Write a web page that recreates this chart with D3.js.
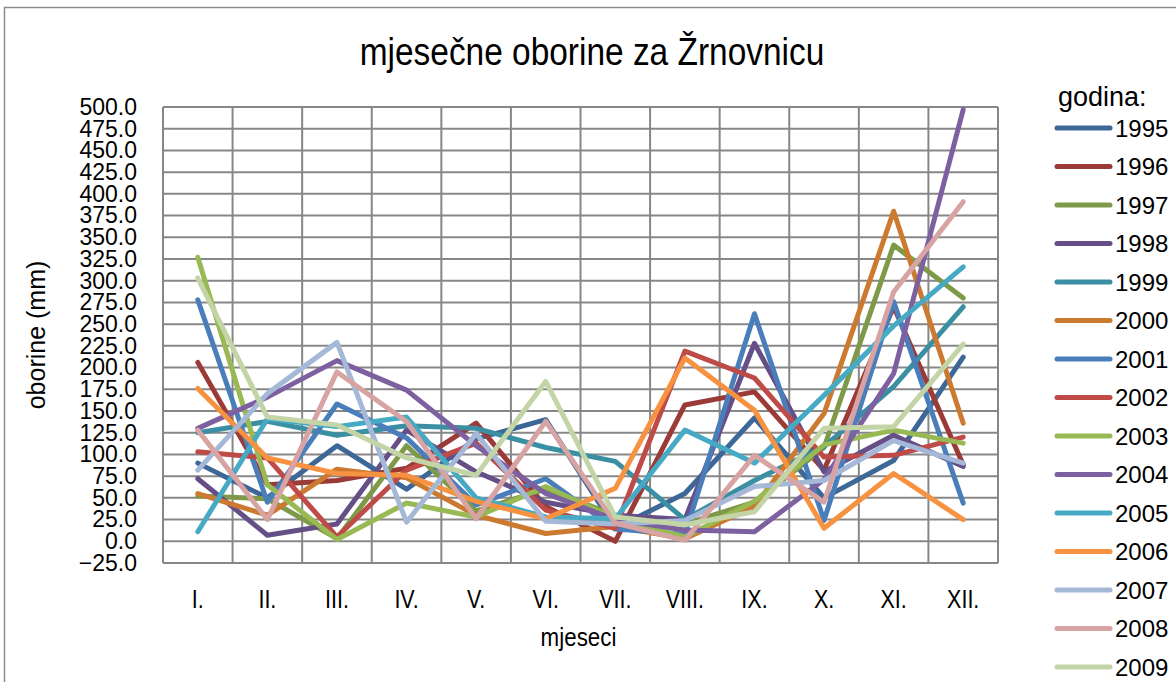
<!DOCTYPE html>
<html>
<head>
<meta charset="utf-8">
<script src="https://cdn.jsdelivr.net/npm/d3@7"></script>
<style>
  body { margin: 0; background: #fff; }
  svg { display: block; }
</style>
</head>
<body>
<svg id="chart"></svg>
<script>
// months and years
const months = ['I.', 'II.', 'III.', 'IV.', 'V.', 'VI.', 'VII.', 'VIII.', 'IX.', 'X.', 'XI.', 'XII.'];
const years = ['1995', '1996', '1997', '1998', '1999', '2000', '2001', '2002',
  '2003', '2004', '2005', '2006', '2007', '2008', '2009'];
const yTicks = d3.range(-25, 501, 25);

// monthly precipitation (mm)
const y1995 = [90, 50, 110, 60, 118, 140, 15, 55, 142, 50, 93, 212];
const y1996 = [206, 65, 70, 84, 136, 40, 0, 157, 172, 82, 270, 88];
const y1997 = [52, 49, 3, 110, 35, 60, 30, 20, 45, 108, 341, 280];
const y1998 = [72, 7, 20, 128, 80, 45, 30, 25, 228, 80, 122, 86];
const y1999 = [125, 138, 122, 133, 130, 108, 92, 25, 70, 109, 178, 270];
const y2000 = [55, 30, 83, 73, 30, 9, 17, 3, 40, 147, 380, 136];
const y2001 = [278, 45, 158, 119, 42, 72, 14, 8, 262, 24, 276, 44];
const y2002 = [103, 96, 5, 82, 113, 36, 15, 219, 188, 97, 99, 120];
const y2003 = [327, 65, 2, 44, 28, 63, 26, 5, 46, 111, 128, 113];
const y2004 = [130, 166, 208, 174, 110, 55, 25, 13, 11, 71, 193, 497];
const y2005 = [11, 141, 132, 143, 50, 28, 26, 128, 90, 168, 248, 316];
const y2006 = [176, 96, 78, 76, 46, 26, 61, 211, 151, 15, 78, 25];
const y2007 = [82, 170, 229, 22, 124, 23, 20, 24, 63, 70, 116, 90];
const y2008 = [128, 25, 195, 138, 26, 138, 21, 1, 99, 45, 287, 391];
const y2009 = [303, 143, 134, 96, 76, 184, 28, 19, 34, 130, 132, 227];

const values = [y1995, y1996, y1997, y1998, y1999, y2000, y2001, y2002,
  y2003, y2004, y2005, y2006, y2007, y2008, y2009];
const colors = ['#3c6797', '#9b3b38', '#7e9a48', '#664f86', '#3a8fa3', '#cc7a30',
  '#4a7ebb', '#be4b48', '#98b954', '#7d60a0', '#46aac5', '#f69240',
  '#a5b8d7', '#d8a4a3', '#c3d5a6'];

const series = years.map((y, i) => ({ year: y, values: values[i], color: colors[i] }));

const W = 1176, H = 682;
const margin = { top: 107, right: 178, bottom: 119, left: 163 };
const width = W - margin.left - margin.right;
const height = H - margin.top - margin.bottom;
const narrow = '"Liberation Sans Narrow", "Arial Narrow", "Liberation Sans", Arial, sans-serif';
const sans = '"Liberation Sans", Arial, sans-serif';

const svg = d3.select('#chart')
  .attr('width', W)
  .attr('height', H);

// chart area border
svg.append('rect')
  .attr('x', 4.5).attr('y', 7.5)
  .attr('width', W + 10).attr('height', H + 10)
  .attr('fill', '#fff')
  .attr('stroke', '#8c8c8c')
  .attr('stroke-width', 1.5);

// title, squeezed to look like Arial Narrow
svg.append('text')
  .attr('transform', 'translate(592,65) scale(0.88,1)')
  .attr('text-anchor', 'middle')
  .style('font-family', narrow)
  .style('font-size', '38px')
  .text('mjesečne oborine za Žrnovnicu');

const g = svg.append('g')
  .attr('transform', `translate(${margin.left},${margin.top})`);

const x = d3.scaleBand()
  .domain(months)
  .range([0, width]);

const y = d3.scaleLinear()
  .domain([-25, 500])
  .range([height, 0]);

// horizontal grid
g.append('g')
  .selectAll('line')
  .data(yTicks)
  .enter()
  .append('line')
  .attr('x1', 0).attr('x2', width)
  .attr('y1', d => y(d)).attr('y2', d => y(d))
  .attr('stroke', '#878787')
  .attr('stroke-width', 2);

// vertical grid
g.append('g')
  .selectAll('line')
  .data(d3.range(months.length + 1))
  .enter()
  .append('line')
  .attr('x1', i => i * x.step()).attr('x2', i => i * x.step())
  .attr('y1', 0).attr('y2', height)
  .attr('stroke', '#878787')
  .attr('stroke-width', 2);

const yAxis = d3.axisLeft(y)
  .tickValues(yTicks)
  .tickFormat(d3.format('.1f'))
  .tickSize(0)
  .tickPadding(26);

g.append('g')
  .attr('id', 'y-axis')
  .call(yAxis)
  .call(s => s.select('.domain').remove())
  .selectAll('text')
  .style('font-family', sans)
  .style('font-size', '23px')
  .attr('fill', '#000');

const xAxis = d3.axisBottom(x)
  .tickSize(0)
  .tickPadding(27);

g.append('g')
  .attr('id', 'x-axis')
  .attr('transform', `translate(0,${height})`)
  .call(xAxis)
  .call(s => s.select('.domain').remove())
  .selectAll('text')
  .attr('transform', 'scale(0.86,1)')
  .style('font-family', narrow)
  .style('font-size', '25px')
  .attr('fill', '#000');

svg.append('text')
  .attr('transform', `translate(${margin.left + width / 2 - 2},646) scale(0.86,1)`)
  .attr('text-anchor', 'middle')
  .style('font-family', narrow)
  .style('font-size', '26px')
  .text('mjeseci');

svg.append('text')
  .attr('transform', 'translate(45,335) rotate(-90)')
  .attr('text-anchor', 'middle')
  .style('font-family', sans)
  .style('font-size', '25px')
  .text('oborine (mm)');

const line = d3.line()
  .x((d, i) => x(months[i]) + x.bandwidth() / 2)
  .y(d => y(d));

g.append('g')
  .selectAll('path')
  .data(series)
  .enter()
  .append('path')
  .attr('d', d => line(d.values))
  .attr('fill', 'none')
  .attr('stroke', d => d.color)
  .attr('stroke-width', 5)
  .attr('stroke-linejoin', 'round')
  .attr('stroke-linecap', 'round');

// legend
const legend = svg.append('g')
  .attr('transform', 'translate(1055,0)');

legend.append('text')
  .attr('x', 3)
  .attr('y', 106)
  .style('font-family', sans)
  .style('font-size', '27px')
  .text('godina:');

const item = legend.selectAll('.item')
  .data(series)
  .enter()
  .append('g')
  .attr('class', 'item')
  .attr('transform', (d, i) => `translate(0,${128 + i * 38.5})`);

item.append('line')
  .attr('x1', 2).attr('x2', 55)
  .attr('y1', 0).attr('y2', 0)
  .attr('stroke', d => d.color)
  .attr('stroke-width', 5)
  .attr('stroke-linecap', 'round');

item.append('text')
  .attr('x', 60)
  .attr('y', 8.5)
  .style('font-family', sans)
  .style('font-size', '24px')
  .text(d => d.year);
</script>
</body>
</html>
